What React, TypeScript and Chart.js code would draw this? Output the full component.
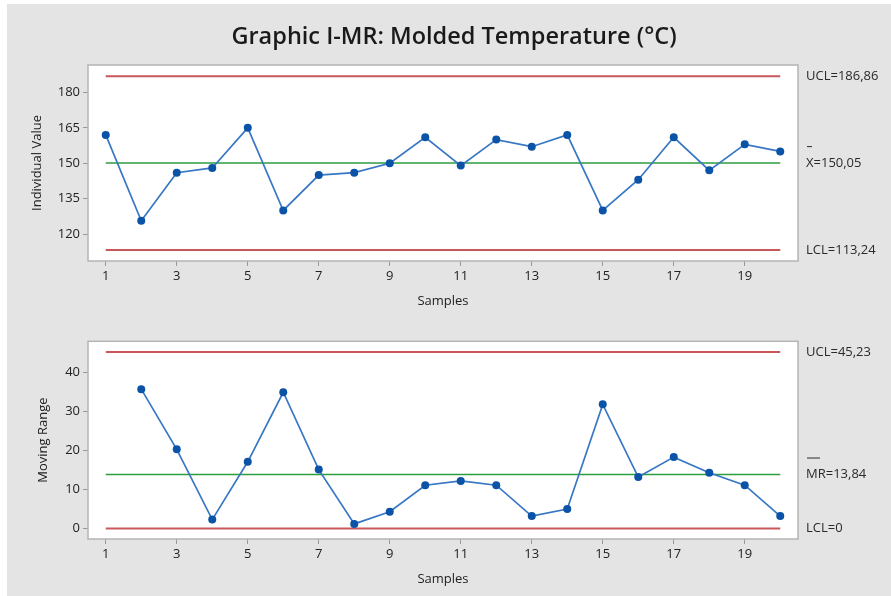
import React, { useEffect, useRef } from "react";
import { Chart, registerables } from "chart.js";

Chart.register(...registerables);

// ---- data ----
const titleText = "Graphic I-MR: Molded Temperature (°C)";
const samples = [1, 2, 3, 4, 5, 6, 7, 8, 9, 10, 11, 12, 13, 14, 15, 16, 17, 18, 19, 20];
const individualValues = [162, 125.6, 146, 148, 165, 130, 145, 146, 150, 161, 149, 160, 157, 162, 130, 143, 161, 147, 158, 155];
const movingRanges = [null, 35.7, 20.3, 2.3, 17.1, 34.9, 15.1, 1.2, 4.3, 11.1, 12.2, 11.1, 3.2, 5.0, 31.8, 13.2, 18.3, 14.3, 11.1, 3.2];
const xTickValues = [1, 3, 5, 7, 9, 11, 13, 15, 17, 19];
const individualTicks = [120, 135, 150, 165, 180];
const movingRangeTicks = [0, 10, 20, 30, 40];
const individualLimits = [186.86, 150.05, 113.24]; // UCL, center, LCL
const individualLimitLabels = ["UCL=186,86", "X=150,05", "LCL=113,24"];
const movingRangeLimits = [45.23, 13.84, 0]; // UCL, center, LCL
const movingRangeLimitLabels = ["UCL=45,23", "MR=13,84", "LCL=0"];
const individualAxisTitle = "Individual Value";
const movingRangeAxisTitle = "Moving Range";
const xAxisTitle = "Samples";

const FONT = '"Open Sans", "Noto Sans", sans-serif';
const RED = "#c9585b";
const GREEN = "#2b9e3e";
const LINE_BLUE = "#3877c4";
const POINT_BLUE = "#0a53a6";

type PanelOpts = {
  values: (number | null)[];
  ticks: number[];
  limits: number[];
  limitLabels: string[];
  yMin: number;
  yMax: number;
  yTitle: string;
  yTitleOffset: number;
  topPad: number;
  barWidth: number;
  showTitle: boolean;
};

function buildConfig(o: PanelOpts): any {
  const series = samples
    .map((s, i) => ({ x: s, y: o.values[i] }))
    .filter((p) => p.y !== null);
  const first = samples[0];
  const last = samples[samples.length - 1];
  const limitDs = (v: number, color: string, width: number) => ({
    data: [
      { x: first, y: v },
      { x: last, y: v },
    ],
    borderColor: color,
    borderWidth: width,
    pointRadius: 0,
    fill: false,
  });

  const panelPlugin = {
    id: "panel",
    beforeDraw(chart: any) {
      const { ctx, chartArea: a } = chart;
      ctx.save();
      ctx.fillStyle = "#ffffff";
      ctx.fillRect(a.left, a.top, a.right - a.left, a.bottom - a.top);
      ctx.restore();
    },
    afterDraw(chart: any) {
      const { ctx, chartArea: a } = chart;
      const y = chart.scales.y;
      ctx.save();
      ctx.strokeStyle = "#b4b4b4";
      ctx.lineWidth = 1.5;
      ctx.strokeRect(a.left, a.top, a.right - a.left, a.bottom - a.top);
      ctx.fillStyle = "#2a2a2a";
      ctx.font = `13px ${FONT}`;
      ctx.textAlign = "left";
      ctx.textBaseline = "middle";
      const lx = a.right + 8;
      o.limits.forEach((v, i) => {
        const py = y.getPixelForValue(v);
        ctx.fillText(o.limitLabels[i], lx, py);
        if (i === 1) {
          ctx.strokeStyle = "#2a2a2a";
          ctx.lineWidth = 1;
          ctx.beginPath();
          ctx.moveTo(lx + 1, py - 16.5);
          ctx.lineTo(lx + 1 + o.barWidth, py - 16.5);
          ctx.stroke();
        }
      });
      if (o.showTitle) {
        ctx.fillStyle = "#1a1a1a";
        ctx.font = `600 23.5px ${FONT}`;
        ctx.textAlign = "center";
        ctx.fillText(titleText, 454, 37);
      }
      ctx.restore();
    },
  };

  return {
    type: "line",
    data: {
      datasets: [
        {
          data: series,
          borderColor: LINE_BLUE,
          borderWidth: 1.7,
          pointRadius: 4,
          pointBackgroundColor: POINT_BLUE,
          pointBorderWidth: 0,
          fill: false,
        },
        limitDs(o.limits[0], RED, 2),
        limitDs(o.limits[1], GREEN, 1.5),
        limitDs(o.limits[2], RED, 2),
      ],
    },
    options: {
      animation: false,
      responsive: false,
      events: [],
      layout: { padding: { top: o.topPad, right: 93, bottom: 0, left: 0 } },
      plugins: { legend: { display: false }, tooltip: { enabled: false }, title: { display: false } },
      scales: {
        x: {
          type: "linear",
          min: 0.5,
          max: 20.5,
          afterBuildTicks: (s: any) => {
            s.ticks = xTickValues.map((v) => ({ value: v }));
          },
          afterFit: (s: any) => {
            s.height = 57;
          },
          ticks: {
            color: "#222",
            font: { family: FONT, size: 13 },
            padding: 2,
            maxRotation: 0,
            autoSkip: false,
            callback: (v: any) => String(v),
          },
          grid: { drawOnChartArea: false, drawTicks: true, tickLength: 5, color: "#999" },
          border: { display: false },
          title: {
            display: true,
            text: xAxisTitle,
            color: "#222",
            font: { family: FONT, size: 13 },
            padding: { top: 0, bottom: 8.7 },
          },
        },
        y: {
          type: "linear",
          min: o.yMin,
          max: o.yMax,
          afterBuildTicks: (s: any) => {
            s.ticks = o.ticks.map((v) => ({ value: v }));
          },
          afterFit: (s: any) => {
            s.width = 88;
          },
          ticks: {
            color: "#222",
            font: { family: FONT, size: 13 },
            padding: 3,
            callback: (v: any) => String(v),
          },
          grid: { drawOnChartArea: false, drawTicks: true, tickLength: 5, color: "#999" },
          border: { display: false },
          title: {
            display: true,
            text: o.yTitle,
            color: "#222",
            font: { family: FONT, size: 13 },
            padding: { top: o.yTitleOffset, bottom: 0 },
          },
        },
      },
    },
    plugins: [panelPlugin],
  };
}

function Panel(props: { opts: PanelOpts; top: number; height: number }) {
  const ref = useRef<HTMLCanvasElement | null>(null);
  useEffect(() => {
    if (!ref.current) return;
    const chart = new Chart(ref.current, buildConfig(props.opts));
    return () => chart.destroy();
  }, []);
  return (
    <canvas
      ref={ref}
      width={891}
      height={props.height}
      style={{ position: "absolute", left: 0, top: props.top, width: 891, height: props.height, display: "block" }}
    />
  );
}

export default function App() {
  const topOpts: PanelOpts = {
    values: individualValues,
    ticks: individualTicks,
    limits: individualLimits,
    limitLabels: individualLimitLabels,
    yMin: 108.6,
    yMax: 191.6,
    yTitle: individualAxisTitle,
    yTitleOffset: 29.2,
    topPad: 65,
    barWidth: 5,
    showTitle: true,
  };
  const bottomOpts: PanelOpts = {
    values: movingRanges,
    ticks: movingRangeTicks,
    limits: movingRangeLimits,
    limitLabels: movingRangeLimitLabels,
    yMin: -2.67,
    yMax: 47.95,
    yTitle: movingRangeAxisTitle,
    yTitleOffset: 35.2,
    topPad: 23.3,
    barWidth: 13,
    showTitle: false,
  };
  return (
    <div style={{ position: "fixed", left: 0, top: 0, width: 891, height: 596, background: "#ffffff", overflow: "hidden" }}>
      <div style={{ position: "absolute", left: 7, top: 4, right: 0, bottom: 0, background: "#e4e4e4" }} />
      <Panel opts={topOpts} top={0} height={318} />
      <Panel opts={bottomOpts} top={318} height={278} />
    </div>
  );
}
